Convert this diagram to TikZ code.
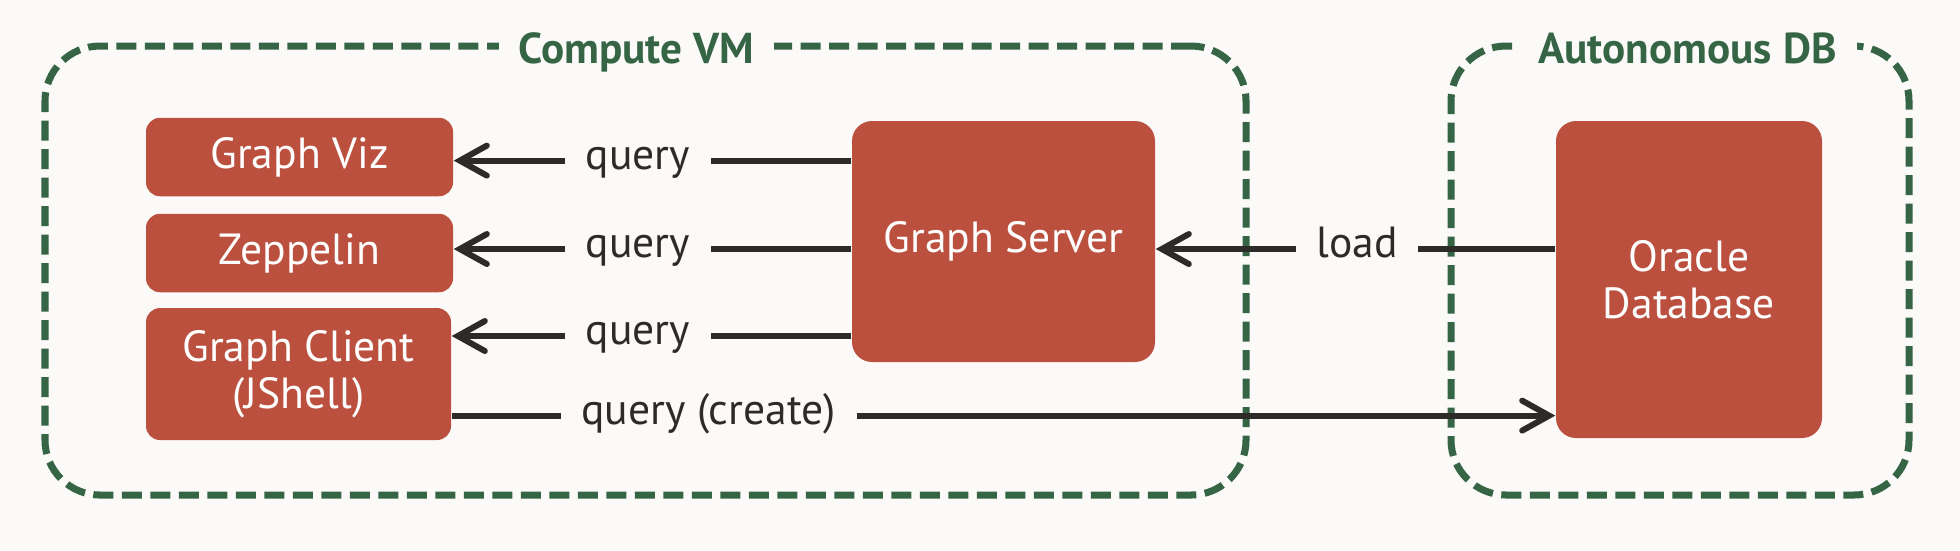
\documentclass[tikz,border=0pt]{standalone}
\usepackage{fontspec}
\setmainfont{PT Sans}
\usepackage{tikz}
\usepackage{xcolor}
\usetikzlibrary{
    arrows.meta,
    positioning
}
\definecolor{boxred}{HTML}{BC503F}
\definecolor{zonegreen}{HTML}{356545}
\definecolor{ink}{HTML}{2D2B28}
\definecolor{paper}{HTML}{FBFAF9}

\begin{document}
\begin{tikzpicture}[
        zone/.style={draw=zonegreen, line width=2pt, dash pattern=on 0.2cm off 0.085cm, rounded corners=0.55cm, inner sep=0pt},
        zonetitle/.style={fill=paper, text=zonegreen, anchor=base, inner xsep=0.2cm, inner ysep=0.05cm, font=\bfseries\fontsize{12.3}{14}\selectfont},
        comp/.style={fill=boxred, text=white, rounded corners=0.14cm, align=center, font=\fontsize{12.4}{13.4}\selectfont},
        lbl/.style={text=ink, inner xsep=0.2cm, text height=0.7em, text depth=0.2em, font=\fontsize{12.4}{14}\selectfont},
        flow/.style={draw=ink, line width=1.7pt},
        arr/.style={-{Straight Barb[length=2.7mm, width=3mm, line cap=round]}}
    ]
                                        \fill[paper] (0, 0) rectangle (19.6, -5.5);

                                        \node[zone, minimum width=12.01cm, minimum height=4.49cm] (vm) at (6.455, -2.705) {};
                                        \node[zone, minimum width=4.58cm, minimum height=4.49cm] (adb) at (16.8, -2.705) {};
                                        \node[zonetitle] (vmt) at ([xshift=-0.09cm, yshift=-0.21cm]vm.north) {Compute VM};
                                        \node[zonetitle] (adbt) at ([xshift=0.075cm, yshift=-0.21cm]adb.north) {Autonomous DB};

                                        \node[comp, minimum width=3.07cm, minimum height=0.785cm] (viz) at (2.995, -1.57) {Graph Viz};
                                        \node[comp, minimum width=3.07cm, minimum height=0.785cm] (zep) at (2.995, -2.53) {Zeppelin};
                                        \node[comp, minimum width=3.05cm, minimum height=1.32cm] (cli) at (2.985, -3.74) {Graph Client\\(JShell)};
                                        \node[comp, minimum width=3.03cm, minimum height=2.41cm, rounded corners=0.2cm] (srv) at (10.035, -2.415) {Graph Server};
                                        \node[comp, minimum width=2.66cm, minimum height=3.17cm, rounded corners=0.2cm] (odb) at (16.89, -2.795) {Oracle\\Database};

                                        \node[lbl] (q1) at (6.38, -1.606) {query};
                                        \node[lbl] (q2) at (6.38, -2.49) {query};
                                        \node[lbl] (q3) at (6.38, -3.36) {query};
                                        \node[lbl] (qc) at (7.085, -4.156) {query (create)};
                                        \node[lbl] (ld) at (13.57, -2.49) {load};

                                        \draw[flow]
                                        (srv.west |- q1) -- (q1.east)
                                        (srv.west |- q2) -- (q2.east)
                                        (srv.west |- q3) -- (q3.east)
                                        (cli.east |- qc) -- (qc.west)
                                        (odb.west |- ld) -- (ld.east);
                                        \draw[flow, arr] (q1.west) -- (viz.east |- q1);
                                        \draw[flow, arr] (q2.west) -- (zep.east |- q2);
                                        \draw[flow, arr] (q3.west) -- (cli.east |- q3);
                                        \draw[flow, arr] (qc.east) -- (odb.west |- qc);
                                        \draw[flow, arr] (ld.west) -- (srv.east |- ld);
                                    \end{tikzpicture}
\end{document}
